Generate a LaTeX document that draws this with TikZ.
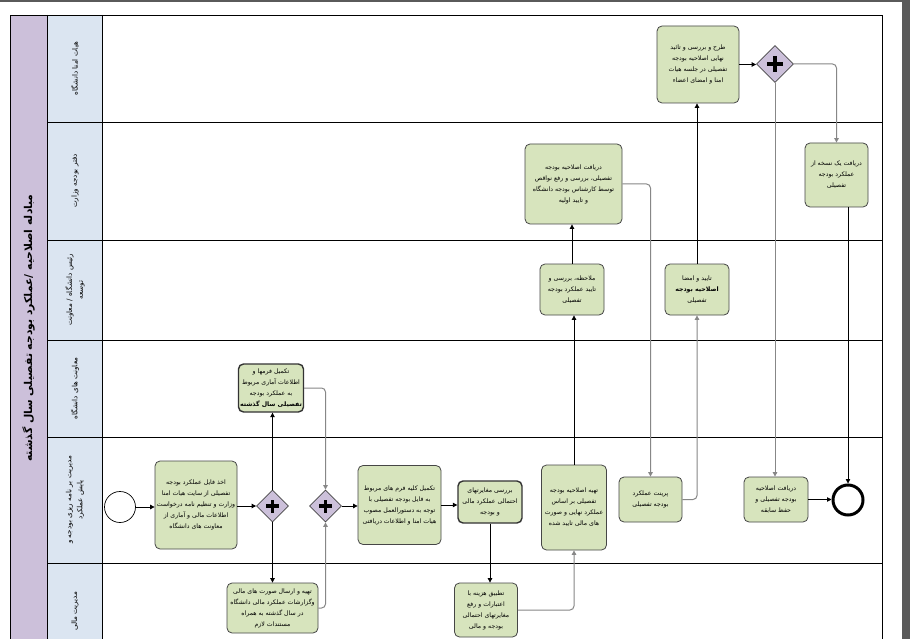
\documentclass[tikz,border=0pt]{standalone}
\usepackage{fontspec}
\usetikzlibrary{shapes.geometric,arrows.meta}
\newfontfamily\fa[Script=Arabic]{DejaVu Sans}
\TeXXeTstate=1
\newcommand{\rl}[1]{\beginR#1\endR}
\definecolor{taskfill}{RGB}{215,228,189}
\definecolor{taskdraw}{RGB}{70,70,70}
\definecolor{gwfill}{RGB}{204,192,218}
\definecolor{poolfill}{RGB}{204,192,218}
\definecolor{lanefill}{RGB}{219,229,241}
\definecolor{flowgray}{RGB}{135,135,135}
\definecolor{chrome}{RGB}{90,90,90}
\tikzset{
  taskbox/.style={draw=taskdraw, fill=taskfill, rounded corners=5pt, line width=0.8pt,
    inner sep=1pt, align=center, font=\fa\fontsize{6.2}{11}\selectfont, text=black},
  boldbox/.style={taskbox, line width=1.4pt, draw=black!80},
  gate/.style={diamond, draw=taskdraw, fill=gwfill, line width=0.8pt, minimum width=32pt,
    minimum height=32pt, inner sep=0pt,
    path picture={\draw[line width=3.6pt,black]
      ([xshift=-6.5pt]path picture bounding box.center) -- ([xshift=6.5pt]path picture bounding box.center)
      ([yshift=-6.5pt]path picture bounding box.center) -- ([yshift=6.5pt]path picture bounding box.center);}},
  gatebig/.style={gate, minimum width=37pt, minimum height=37pt,
    path picture={\draw[line width=4.2pt,black]
      ([xshift=-8pt]path picture bounding box.center) -- ([xshift=8pt]path picture bounding box.center)
      ([yshift=-8pt]path picture bounding box.center) -- ([yshift=8pt]path picture bounding box.center);}},
  flow/.style={draw=black, line width=0.8pt, -{Triangle[length=4.5pt,width=4.5pt]}},
  flowg/.style={draw=flowgray, line width=1pt, rounded corners=4pt, -{Triangle[length=4.5pt,width=4.5pt]}},
  lanelabel/.style={rotate=90, align=center, font=\fa\fontsize{7.2}{11}\selectfont, text=black},
}
\begin{document}
\begin{tikzpicture}[x=1pt,y=-1pt]
\useasboundingbox (0,0) rectangle (910,639);
\clip (0,0) rectangle (910,639);
\fill[white] (0,0) rectangle (910,639);
\fill[chrome] (0,0) rectangle (910,2.5);
\fill[chrome] (902,0) rectangle (910,639);
% pool and lanes
\fill[poolfill] (10,15) rectangle (47,660);
\fill[lanefill] (47,15) rectangle (102,660);
\draw[line width=0.8pt] (10,15) rectangle (882,660);
\draw[line width=0.8pt] (47,15) -- (47,660);
\draw[line width=0.8pt] (102,15) -- (102,660);
\foreach \yy in {122,240,340,437,563} {\draw[line width=0.8pt] (47,\yy) -- (882,\yy);}
\node[rotate=90, font=\fa\bfseries\fontsize{10.8}{12}\selectfont] (title) at (28.5,328) {\rl{مبادله اصلاحیه /عملکرد بودجه تفصیلی سال گذشته}};
\node[lanelabel] (l1) at (75,68.5) {\rl{هیات امنا دانشگاه}};
\node[lanelabel] (l2) at (75,181) {\rl{دفتر بودجه وزارت}};
\node[lanelabel] (l3) at (75,290) {\rl{رئیس دانشگاه / معاونت}\\\rl{توسعه}};
\node[lanelabel] (l4) at (75,388.5) {\rl{معاونت های دانشگاه}};
\node[lanelabel] (l5) at (75,500) {\rl{مدیریت بر نامه ریزی بودجه و}\\\rl{پایش عملکرد}};
\node[lanelabel, anchor=east] (l6) at (75,588) {\rl{مدیریت مالی}};
% events and gateways
\node[circle, draw=black, line width=0.7pt, fill=white, minimum size=31pt, inner sep=0pt] (S) at (120,507) {};
\node[circle, draw=black, line width=3pt, fill=white, minimum size=30pt, inner sep=0pt] (End) at (848,500) {};
\node[gate] (G1) at (272.5,506) {};
\node[gate] (G2) at (325.5,506) {};
\node[gatebig] (G3) at (775,64) {};
% tasks
\node[taskbox, minimum width=82pt, minimum height=88pt] (A) at (196,505)
 {\rl{اخذ فایل عملکرد بودجه}\\\rl{تفصیلی از سایت هیات امنا}\\\rl{وزارت و تنظیم نامه درخواست}\\\rl{اطلاعات مالی و آماری از}\\\rl{معاونت های دانشگاه}};
\node[taskbox, minimum width=83pt, minimum height=79pt] (B) at (399.5,505)
 {\rl{تکمیل کلیه فرم های مربوط}\\\rl{به فایل بودجه تفصیلی با}\\\rl{توجه به دستورالعمل مصوب}\\\rl{هیات امنا و اطلاعات دریافتی}};
\node[boldbox, minimum width=64pt, minimum height=42pt] (C) at (490,502)
 {\rl{بررسی مغایرتهای}\\\rl{احتمالی عملکرد مالی}\\\rl{و بودجه}};
\node[taskbox, minimum width=65pt, minimum height=85pt] (D) at (574,507.5)
 {\rl{تهیه اصلاحیه بودجه}\\\rl{تفصیلی بر اساس}\\\rl{عملکرد نهایی و صورت}\\\rl{های مالی تایید شده}};
\node[taskbox, minimum width=63pt, minimum height=45pt] (E) at (650.5,499.5)
 {\rl{پرینت عملکرد}\\\rl{بودجه تفصیلی}};
\node[taskbox, minimum width=64pt, minimum height=45pt] (F) at (776,499.5)
 {\rl{دریافت اصلاحیه}\\\rl{بودجه تفصیلی و}\\\rl{حفظ سابقه}};
\node[taskbox, minimum width=91pt, minimum height=50pt] (G) at (272.5,608)
 {\rl{تهیه و ارسال صورت های مالی}\\\rl{وگزارشات عملکرد مالی دانشگاه}\\\rl{در سال گذشته به همراه}\\\rl{مستندات لازم}};
\node[taskbox, minimum width=63pt, minimum height=54pt] (H) at (486,610)
 {\rl{تطبیق هزینه با}\\\rl{اعتبارات و رفع}\\\rl{مغایرتهای احتمالی}\\\rl{بودجه و مالی}};
\node[boldbox, minimum width=65pt, minimum height=48pt] (I) at (271,388)
 {\rl{تکمیل فرمها و}\\\rl{اطلاعات آماری مربوط}\\\rl{به عملکرد بودجه}\\\textbf{\rl{تفصیلی سال گذشته}}};
\node[taskbox, minimum width=64pt, minimum height=51pt] (J) at (572,289.5)
 {\rl{ملاحظه، بررسی و}\\\rl{تایید عملکرد بودجه}\\\rl{تفصیلی}};
\node[taskbox, minimum width=64pt, minimum height=51pt] (K) at (697,289.5)
 {\rl{تایید و امضا}\\\textbf{\rl{اصلاحیه بودجه}}\\\rl{تفصیلی}};
\node[taskbox, minimum width=97pt, minimum height=80pt] (L) at (573.5,184)
 {\rl{دریافت اصلاحیه بودجه}\\\rl{تفصیلی، بررسی و رفع نواقص}\\\rl{توسط کارشناس بودجه دانشگاه}\\\rl{و تایید اولیه}};
\node[taskbox, minimum width=63pt, minimum height=64pt] (M) at (836.5,175)
 {\rl{دریافت یک نسخه از}\\\rl{عملکرد بودجه}\\\rl{تفصیلی}};
\node[taskbox, minimum width=82pt, minimum height=77pt] (N) at (698,64.5)
 {\rl{طرح و بررسی و تائید}\\\rl{نهایی اصلاحیه بودجه}\\\rl{تفصیلی در جلسه هیات}\\\rl{امنا و امضای اعضاء}};
% flows
\draw[flow] (S) -- (S -| A.west);
\draw[flow] (A.east |- G1.west) -- (G1.west);
\draw[flow] (G1.north) -- (G1.north |- I.south);
\draw[flow] (G1.south) -- (G1.south |- G.north);
\draw[flowg] (I.east) -| (G2.north);
\draw[flowg] (G.east) -| (G2.south);
\draw[flow] (G2.east) -- (G2.east -| B.west);
\draw[flow] (B.east) -- (B.east -| C.west);
\draw[flow] (C.south) -- (C.south |- H.north);
\draw[flowg] (H.east) -| (D.south);
\draw[flow] (D.north) -- (D.north |- J.south);
\draw[flow] (J.north) -- (J.north |- L.south);
\draw[flowg] (L.east) -| (E.north);
\draw[flowg] (E.east) -| (K.south);
\draw[flow] (K.north) -- (K.north |- N.south);
\draw[flow] (N.east) -- (N.east -| G3.west);
\draw[flowg] (G3.east) -| (M.north);
\draw[flowg] (G3.south) -- (G3.south |- F.north);
\draw[flow] (End.north |- M.south) -- (End.north);
\draw[flow] (F.east) -- (F.east -| End.west);
\end{tikzpicture}
\end{document}
